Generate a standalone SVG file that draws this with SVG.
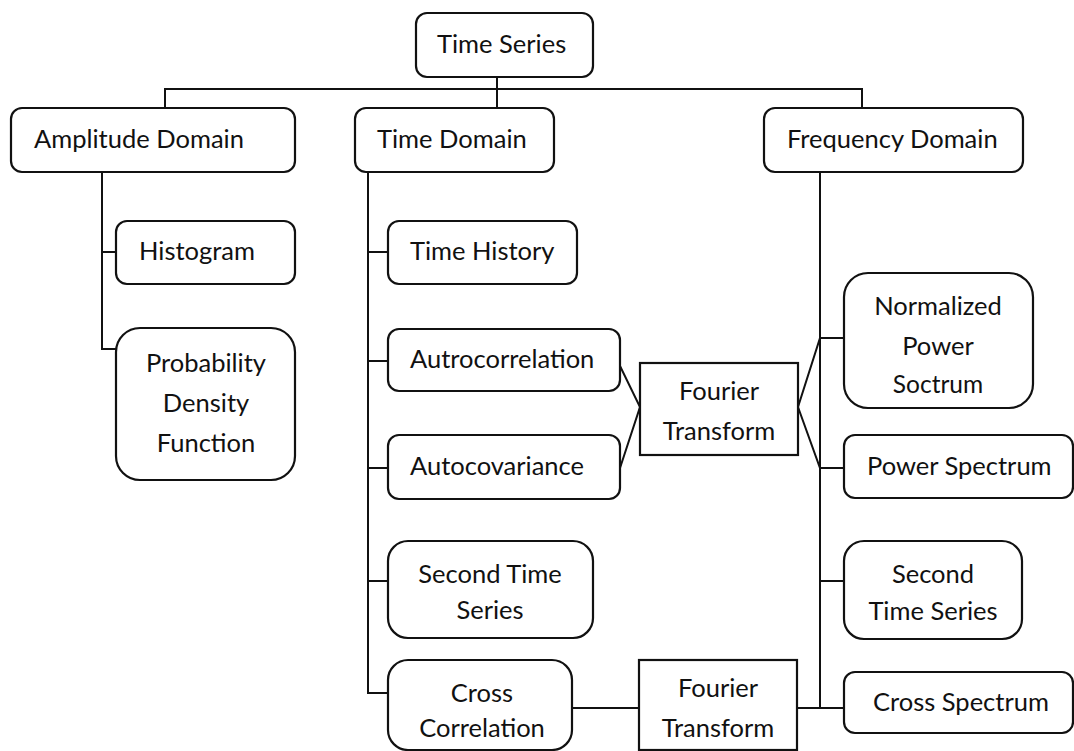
<svg xmlns="http://www.w3.org/2000/svg" width="1074" height="751" viewBox="0 0 1074 751">
  <style>
    .box { fill: #ffffff; stroke: #111111; stroke-width: 2.2; }
    .sq { fill: #ffffff; stroke: #111111; stroke-width: 2.2; }
    .wire { fill: none; stroke: #111111; stroke-width: 2; }
    text { font-family: Lato, "Open Sans", sans-serif; font-size: 25.5px; fill: #111111; }
    .c { text-anchor: middle; }
    .small { font-size: 24.5px; }
  </style>
  <rect width="1074" height="751" fill="#ffffff"/>

  <!-- connectors -->
  <g id="connectors" class="wire">
    <!-- root to the three domains -->
    <path d="M497 77 V108"/>
    <path d="M165 108 V89 H862 V108"/>
    <!-- amplitude branch -->
    <path d="M102 172 V349 H116"/>
    <path d="M102 252 H116"/>
    <!-- time branch -->
    <path d="M368 172 V693 H388"/>
    <path d="M368 252 H388"/>
    <path d="M368 361 H388"/>
    <path d="M368 468 H388"/>
    <path d="M368 581 H388"/>
    <!-- autocorrelation / autocovariance into the transform -->
    <path d="M620 366 L640 407 L620 468"/>
    <!-- transform out to the spectra -->
    <path d="M844 338 H820 L798 407 L820 468 H844"/>
    <!-- frequency branch -->
    <path d="M820 172 V708"/>
    <path d="M820 581 H844"/>
    <!-- cross correlation chain -->
    <path d="M572 708 H639"/>
    <path d="M797 708 H844"/>
  </g>

  <g id="time-series">
    <rect class="box" x="416" y="13" width="177" height="64" rx="11"/>
    <text x="437" y="53">Time Series</text>
  </g>

  <g id="amplitude-domain">
    <rect class="box" x="11" y="108" width="284" height="64" rx="11"/>
    <text x="34" y="148">Amplitude Domain</text>
  </g>

  <g id="time-domain">
    <rect class="box" x="355" y="108" width="199" height="64" rx="11"/>
    <text x="377" y="148">Time Domain</text>
  </g>

  <g id="frequency-domain">
    <rect class="box" x="764" y="108" width="259" height="64" rx="11"/>
    <text x="787" y="148">Frequency Domain</text>
  </g>

  <g id="histogram">
    <rect class="box" x="116" y="221" width="179" height="63" rx="11"/>
    <text x="139" y="260">Histogram</text>
  </g>

  <g id="pdf">
    <rect class="box" x="116" y="328" width="179" height="152" rx="24"/>
    <text class="c" x="206" y="372">Probability</text>
    <text class="c" x="206" y="412">Density</text>
    <text class="c" x="206" y="452">Function</text>
  </g>

  <g id="time-history">
    <rect class="box" x="388" y="221" width="189" height="63" rx="11"/>
    <text x="410" y="260">Time History</text>
  </g>

  <g id="autocorrelation">
    <rect class="box" x="388" y="329" width="232" height="62" rx="11"/>
    <text x="410" y="368">Autrocorrelation</text>
  </g>

  <g id="autocovariance">
    <rect class="box" x="388" y="435" width="232" height="64" rx="11"/>
    <text x="410" y="475">Autocovariance</text>
  </g>

  <g id="fourier-1">
    <rect class="sq" x="640" y="363" width="158" height="92"/>
    <text class="c" x="719" y="400">Fourier</text>
    <text class="c" x="719" y="440">Transform</text>
  </g>

  <g id="second-time-series-left">
    <rect class="box" x="388" y="541" width="205" height="97" rx="20"/>
    <text class="c" x="490" y="583">Second Time</text>
    <text class="c" x="490" y="619">Series</text>
  </g>

  <g id="cross-correlation">
    <rect class="box" x="388" y="660" width="184" height="90" rx="20"/>
    <text class="c" x="482" y="702">Cross</text>
    <text class="c" x="482" y="737">Correlation</text>
  </g>

  <g id="fourier-2">
    <rect class="sq" x="639" y="660" width="158" height="90"/>
    <text class="c" x="718" y="697">Fourier</text>
    <text class="c" x="718" y="737">Transform</text>
  </g>

  <g id="normalized-power-spectrum">
    <rect class="box" x="844" y="273" width="189" height="135" rx="24"/>
    <text class="c" x="938" y="315">Normalized</text>
    <text class="c" x="938" y="355">Power</text>
    <text class="c small" x="938" y="393">Soctrum</text>
  </g>

  <g id="power-spectrum">
    <rect class="box" x="844" y="435" width="229" height="63" rx="11"/>
    <text x="867" y="475">Power Spectrum</text>
  </g>

  <g id="second-time-series-right">
    <rect class="box" x="844" y="541" width="178" height="98" rx="20"/>
    <text class="c" x="933" y="583">Second</text>
    <text class="c" x="933" y="620">Time Series</text>
  </g>

  <g id="cross-spectrum">
    <rect class="box" x="844" y="672" width="229" height="61" rx="11"/>
    <text x="873" y="711">Cross Spectrum</text>
  </g>
</svg>
